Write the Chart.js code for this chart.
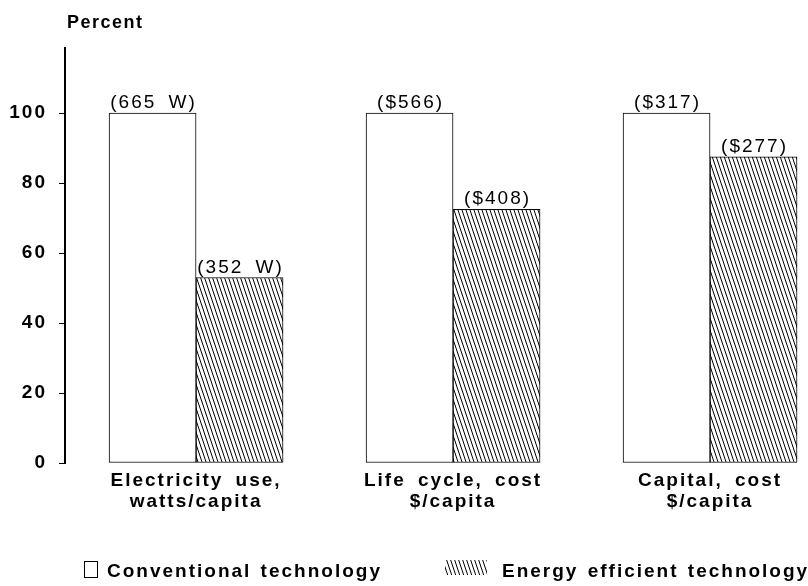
<!DOCTYPE html>
<html lang="en">
<head>
<meta charset="UTF-8">
<title>Conventional vs energy efficient technology</title>
<script src="https://cdn.jsdelivr.net/npm/chart.js"></script>
<style>
  body { margin: 0; background: #fff; }
  canvas { display: block; }
</style>
</head>
<body>
<canvas id="chart" width="808" height="586"></canvas>
<script>
// data (percent of conventional technology)
const categories = [
  ['Electricity use,', 'watts/capita'],
  ['Life cycle, cost', '$/capita'],
  ['Capital, cost', '$/capita']
];
const seriesNames = ['Conventional technology', 'Energy efficient technology'];
const conventional = [100, 100, 100];
const efficient = [53, 72.5, 87.5];
const conventionalLabels = ['(665 W)', '($566)', '($317)'];
const efficientLabels = ['(352 W)', '($408)', '($277)'];
const yTicks = [0, 20, 40, 60, 80, 100];

const FONT = '"Liberation Sans", Arial, Helvetica, sans-serif';

// diagonal hatch used for the efficient bars
function makeHatch() {
    const c = document.createElement('canvas');
    c.width = 4;
    c.height = 12;
    const g = c.getContext('2d');
    g.fillStyle = '#fff';
    g.fillRect(0, 0, 4, 12);
    g.strokeStyle = '#000';
    g.lineWidth = 1;
    [-4, 0, 4].forEach(dx => {
        g.beginPath();
        g.moveTo(dx, 0);
        g.lineTo(dx + 4, 12);
        g.stroke();
    });
    return g.createPattern(c, 'repeat');
}
const hatch = makeHatch();

// wide spacing like the original print
const textStyle = {
    id: 'textStyle',
    beforeDraw(chart) {
        chart.ctx.letterSpacing = '2px';
        chart.ctx.wordSpacing = '5px';
    }
};

// value labels above each bar
const barLabels = {
    id: 'barLabels',
    afterDatasetsDraw(chart) {
        const ctx = chart.ctx;
        const texts = [conventionalLabels, efficientLabels];
        ctx.save();
        ctx.font = '19px ' + FONT;
        ctx.fillStyle = '#000';
        ctx.textAlign = 'center';
        ctx.textBaseline = 'alphabetic';
        chart.data.datasets.forEach((ds, i) => {
            chart.getDatasetMeta(i).data.forEach((bar, j) => {
                ctx.fillText(texts[i][j], bar.x + 1, bar.y - 5);
            });
        });
        ctx.restore();
    }
};

// axis title and legend
const extras = {
    id: 'extras',
    afterDraw(chart) {
        const ctx = chart.ctx;
        const ds = chart.data.datasets;
        ctx.save();
        ctx.fillStyle = '#000';
        ctx.textAlign = 'left';
        ctx.textBaseline = 'alphabetic';
        ctx.letterSpacing = '1.5px';
        ctx.font = 'bold 18px ' + FONT;
        ctx.fillText('Percent', chart.chartArea.left + 2, 28);

        ctx.letterSpacing = '2px';
        ctx.wordSpacing = '2px';
        ctx.font = 'bold 19px ' + FONT;
        ctx.strokeStyle = '#000';
        ctx.lineWidth = 1;
        // conventional swatch
        ctx.fillStyle = ds[0].backgroundColor;
        ctx.fillRect(84, 561, 13, 16);
        ctx.strokeRect(84.5, 561.5, 13, 16);
        ctx.fillStyle = '#000';
        ctx.fillText(ds[0].label, 107, 577);
        // efficient swatch
        ctx.fillStyle = ds[1].backgroundColor;
        ctx.fillRect(445, 560, 42, 15);
        ctx.fillStyle = '#000';
        ctx.fillText(ds[1].label, 502, 577);
        ctx.restore();
    }
};

new Chart(document.getElementById('chart'), {
    type: 'bar',
    data: {
        datasets: [
            {
                label: seriesNames[0],
                data: conventional.map((v, i) => ({ x: i, y: v })),
                backgroundColor: '#fff',
                borderColor: '#000',
                borderWidth: 1,
                borderSkipped: false
            },
            {
                label: seriesNames[1],
                data: efficient.map((v, i) => ({ x: i, y: v })),
                backgroundColor: hatch,
                borderColor: '#000',
                borderWidth: 1,
                borderSkipped: false
            }
        ]
    },
    options: {
        responsive: false,
        animation: false,
        layout: { padding: { left: 0, right: 8, top: 48, bottom: 63 } },
        datasets: { bar: { barThickness: 87 } },
        plugins: {
            legend: { display: false },
            tooltip: { enabled: false }
        },
        scales: {
            x: {
                type: 'linear',
                offset: false,
                min: -0.51,
                max: 2.35,
                grid: { display: false, drawTicks: false, offset: false },
                border: { display: false },
                afterBuildTicks(s) { s.ticks = categories.map((c, i) => ({ value: i })); },
                afterFit(s) { s.height = 60; },
                ticks: {
                    callback: v => categories[v],
                    font: { family: FONT, size: 19, weight: 'bold', lineHeight: 1.1 },
                    color: '#000',
                    padding: 7,
                    maxRotation: 0,
                    autoSkip: false
                }
            },
            y: {
                min: 0,
                max: 118.6,
                afterBuildTicks(s) { s.ticks = yTicks.map(v => ({ value: v })); },
                afterFit(s) { s.width = 65; },
                grid: { drawOnChartArea: false, tickLength: 6, color: '#000' },
                border: { color: '#000', width: 2 },
                ticks: {
                    font: { family: FONT, size: 19, weight: 'bold' },
                    color: '#000',
                    padding: 12
                }
            }
        }
    },
    plugins: [textStyle, barLabels, extras]
});
</script>
</body>
</html>
